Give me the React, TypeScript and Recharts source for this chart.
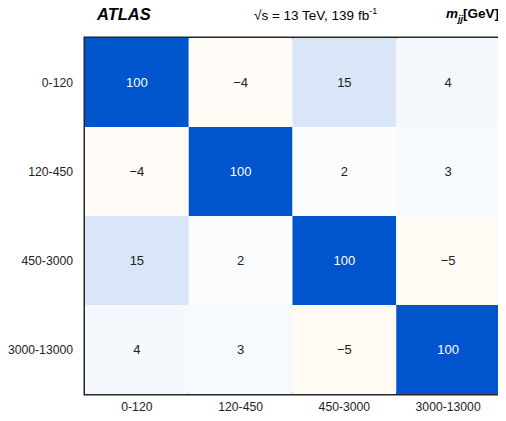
import { Bar, BarChart, Cell, LabelList, ReferenceArea, XAxis, YAxis } from 'recharts';

// mjj bins, top-to-bottom rows and left-to-right columns
const BINS = ['0-120', '120-450', '450-3000', '3000-13000'];
const COL_TICKS = [0.5, 1.5, 2.5, 3.5];

// correlation (%) between bins, row i / column j
const ROW_0 = [100, -4, 15, 4];
const ROW_1 = [-4, 100, 2, 3];
const ROW_2 = [15, 2, 100, -5];
const ROW_3 = [4, 3, -5, 100];
const MATRIX = [ROW_0, ROW_1, ROW_2, ROW_3];

const FONT = '"Liberation Sans", Arial, sans-serif';
const INK = '#222';

// white -> blue for positive, white -> amber for negative
function cellColor(v: number) {
  const t = Math.min(Math.abs(v) / 100, 1);
  const to = v >= 0 ? [0, 85, 204] : [255, 150, 30];
  const c = to.map((x) => Math.round(255 + (x - 255) * t));
  return `rgb(${c[0]},${c[1]},${c[2]})`;
}

const fmt = (v: number) => (v < 0 ? `\u2212${Math.abs(v)}` : String(v));

const data = BINS.map((b) => ({ row: b, c0: 1, c1: 1, c2: 1, c3: 1 }));

function CellLabel(col: number) {
  return (props: any) => {
    const { x, y, width, height, index } = props;
    const v = MATRIX[index][col];
    return (
      <text
        x={x + width / 2}
        y={y + height / 2}
        textAnchor="middle"
        dominantBaseline="central"
        fontFamily={FONT}
        fontSize={13}
        fill={v >= 50 ? '#fff' : INK}
      >
        {fmt(v)}
      </text>
    );
  };
}

const TICK = { fill: INK, fontSize: 12.2, fontFamily: FONT };

export default function App() {
  return (
    <div style={{ position: 'relative', width: 498, height: 413 }}>
      <BarChart
        width={498}
        height={413}
        data={data}
        layout="vertical"
        barCategoryGap={0}
        margin={{ top: 30, right: 6, bottom: 7, left: 0 }}
      >
        <XAxis
          type="number"
          domain={[0, 4]}
          ticks={COL_TICKS}
          tickFormatter={(v: number) => BINS[Math.floor(v)]}
          tick={TICK}
          tickLine={false}
          axisLine={false}
          height={20}
          interval={0}
        />
        <YAxis
          type="category"
          dataKey="row"
          tick={TICK}
          tickLine={false}
          tickMargin={6}
          axisLine={false}
          width={77}
        />
        {[0, 1, 2, 3].map((j) => (
          <Bar key={j} dataKey={`c${j}`} stackId="m" isAnimationActive={false}>
            {MATRIX.map((r, i) => (
              <Cell key={i} fill={cellColor(r[j])} />
            ))}
            <LabelList content={CellLabel(j)} />
          </Bar>
        ))}
        <ReferenceArea x1={0} x2={4} fill="none" stroke="#262626" strokeWidth={3} ifOverflow="visible" />
      </BarChart>
      <div
        style={{
          position: 'absolute',
          left: 89,
          top: -3,
          fontFamily: FONT,
          fontWeight: 'bold',
          fontStyle: 'italic',
          fontSize: 16.5,
          color: '#000',
          whiteSpace: 'nowrap',
        }}
      >
        ATLAS
      </div>
      <div
        style={{
          position: 'absolute',
          left: 246,
          top: -2,
          fontFamily: FONT,
          fontSize: 13.5,
          color: '#000',
          whiteSpace: 'nowrap',
        }}
      >
        √<span style={{ textDecoration: 'overline' }}>s</span> = 13 TeV, 139 fb
        <sup style={{ fontSize: 9 }}>-1</sup>
      </div>
      <div
        style={{
          position: 'absolute',
          right: 7,
          top: -2,
          fontFamily: FONT,
          fontWeight: 'bold',
          fontSize: 13.5,
          color: '#000',
          whiteSpace: 'nowrap',
        }}
      >
        <i>m</i>
        <sub style={{ fontSize: 9 }}>
          <i>jj</i>
        </sub>
        [GeV]
      </div>
    </div>
  );
}
